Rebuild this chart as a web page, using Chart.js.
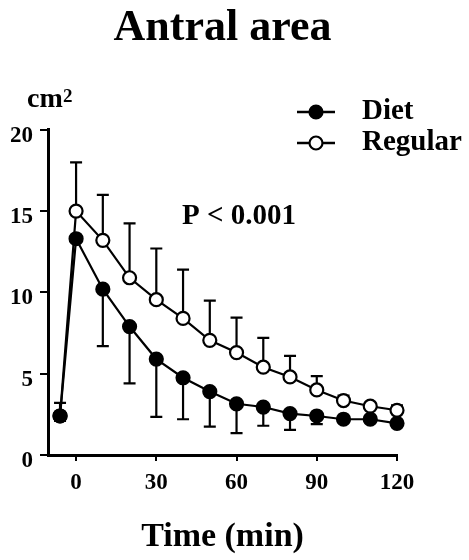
<!DOCTYPE html>
<html>
<head>
<meta charset="utf-8">
<title>Antral area</title>
<script src="https://cdn.jsdelivr.net/npm/chart.js@4/dist/chart.umd.min.js"></script>
<style>
  html, body { margin: 0; padding: 0; background: #fff; }
  #chart { display: block; }
</style>
</head>
<body>
<canvas id="chart" width="469" height="560"></canvas>
<script>
// time in minutes, -6 = fasting baseline before the meal
const times = [-6, 0, 10, 20, 30, 40, 50, 60, 70, 80, 90, 100, 110, 120];
const dietMean = [2.4, 13.3, 10.2, 7.9, 5.9, 4.75, 3.9, 3.15, 2.95, 2.55, 2.4, 2.2, 2.2, 1.95];
const dietSD = [0.3, 0, 3.5, 3.5, 3.55, 2.55, 2.15, 1.8, 1.15, 1.0, 0.5, 0.2, 0.2, 0.2];
const regularMean = [2.4, 15.0, 13.2, 10.9, 9.55, 8.4, 7.05, 6.3, 5.4, 4.8, 4.0, 3.35, 3.0, 2.75];
const regularSD = [0.8, 3.0, 2.8, 3.35, 3.15, 3.0, 2.45, 2.15, 1.8, 1.3, 0.85, 0.3, 0.2, 0.3];
const xTicks = [0, 30, 60, 90, 120];
const yTicks = [0, 5, 10, 15, 20];
const seriesNames = ['Diet', 'Regular'];

const serif = "'Liberation Serif', 'Times New Roman', 'DejaVu Serif', serif";

// one-sided SD bars: diet goes down, regular goes up
const errorBars = {
  id: 'errorBars',
  beforeDatasetsDraw(chart) {
    const ctx = chart.ctx;
    const xs = chart.scales.x, ys = chart.scales.y;
    ctx.save();
    ctx.strokeStyle = '#000';
    ctx.lineWidth = 2.2;
    chart.data.datasets.forEach(ds => {
      ds.data.forEach((p, i) => {
        const sd = ds.sd[i];
        if (!sd) return;
        const px = xs.getPixelForValue(p.x);
        const py = ys.getPixelForValue(p.y);
        const pe = ys.getPixelForValue(p.y + ds.dir * sd);
        ctx.beginPath();
        ctx.moveTo(px, py);
        ctx.lineTo(px, pe);
        ctx.moveTo(px - 6, pe);
        ctx.lineTo(px + 6, pe);
        ctx.stroke();
      });
    });
    ctx.restore();
  }
};

// legend, unit label and p value
const extras = {
  id: 'extras',
  afterDraw(chart) {
    const ctx = chart.ctx;
    const xs = chart.scales.x, ys = chart.scales.y;
    ctx.save();
    ctx.fillStyle = '#000';
    ctx.textBaseline = 'alphabetic';
    ctx.font = 'bold 28px ' + serif;
    ctx.fillText('cm', 27, 107);
    ctx.font = 'bold 19px ' + serif;
    ctx.fillText('2', 63, 102);

    ctx.font = 'bold 29px ' + serif;
    ctx.fillText('P < 0.001', xs.getPixelForValue(39.6), ys.getPixelForValue(14.9) + 11);

    // legend
    chart.data.datasets.forEach((ds, i) => {
      const ly = 112 + i * 31;
      ctx.strokeStyle = '#000';
      ctx.lineWidth = 2.5;
      ctx.beginPath();
      ctx.moveTo(297, ly);
      ctx.lineTo(335, ly);
      ctx.stroke();
      ctx.beginPath();
      ctx.arc(316, ly, 6.5, 0, Math.PI * 2);
      ctx.fillStyle = ds.pointBackgroundColor;
      ctx.fill();
      ctx.lineWidth = 2.2;
      ctx.stroke();
      ctx.fillStyle = '#000';
      ctx.font = 'bold 29px ' + serif;
      ctx.textBaseline = 'middle';
      ctx.fillText(ds.label, 362, ly);
    });
    ctx.restore();
  }
};

function makeSeries(name, mean, sd, dir, fill) {
  return {
    label: name,
    data: times.map((t, i) => ({ x: t, y: mean[i] })),
    sd: sd,
    dir: dir,
    borderColor: '#000',
    borderWidth: 2.2,
    pointRadius: 6.5,
    pointHoverRadius: 6.5,
    pointBorderWidth: 2.2,
    pointBorderColor: '#000',
    pointBackgroundColor: fill,
    tension: 0,
    clip: false
  };
}

const tickFont = { family: serif, size: 23, weight: 'bold' };

new Chart(document.getElementById('chart'), {
  type: 'line',
  data: {
    datasets: [
      makeSeries(seriesNames[0], dietMean, dietSD, -1, '#000'),
      makeSeries(seriesNames[1], regularMean, regularSD, 1, '#fff')
    ]
  },
  options: {
    responsive: false,
    animation: false,
    events: [],
    layout: { padding: { top: 0, left: 0, right: 72, bottom: 0 } },
    plugins: {
      legend: { display: false },
      tooltip: { enabled: false },
      title: {
        display: true,
        text: 'Antral area',
        fullSize: false,
        color: '#000',
        font: { family: serif, size: 44, weight: 'bold' },
        padding: { top: 2, bottom: 75 }
      }
    },
    scales: {
      x: {
        type: 'linear',
        min: -10.5,
        max: 120,
        afterBuildTicks: s => { s.ticks = xTicks.map(v => ({ value: v })); },
        afterFit: s => { s.height = 105; },
        border: { display: true, color: '#000', width: 3 },
        grid: { display: true, drawOnChartArea: false, drawTicks: true, tickLength: 6, color: '#000', lineWidth: 2 },
        ticks: { color: '#000', font: tickFont, padding: 8, maxRotation: 0 },
        title: {
          display: true,
          text: 'Time (min)',
          color: '#000',
          font: { family: serif, size: 34, weight: 'bold' },
          padding: { top: 0, bottom: 2 }
        }
      },
      y: {
        min: 0,
        max: 20,
        afterBuildTicks: s => { s.ticks = yTicks.map(v => ({ value: v })); },
        afterFit: s => { s.width = 48; },
        border: { display: true, color: '#000', width: 3 },
        grid: { display: true, drawOnChartArea: false, drawTicks: true, tickLength: 8, color: '#000', lineWidth: 2 },
        ticks: { color: '#000', font: tickFont, padding: 7, labelOffset: 6 }
      }
    }
  },
  plugins: [errorBars, extras]
});
</script>
</body>
</html>
